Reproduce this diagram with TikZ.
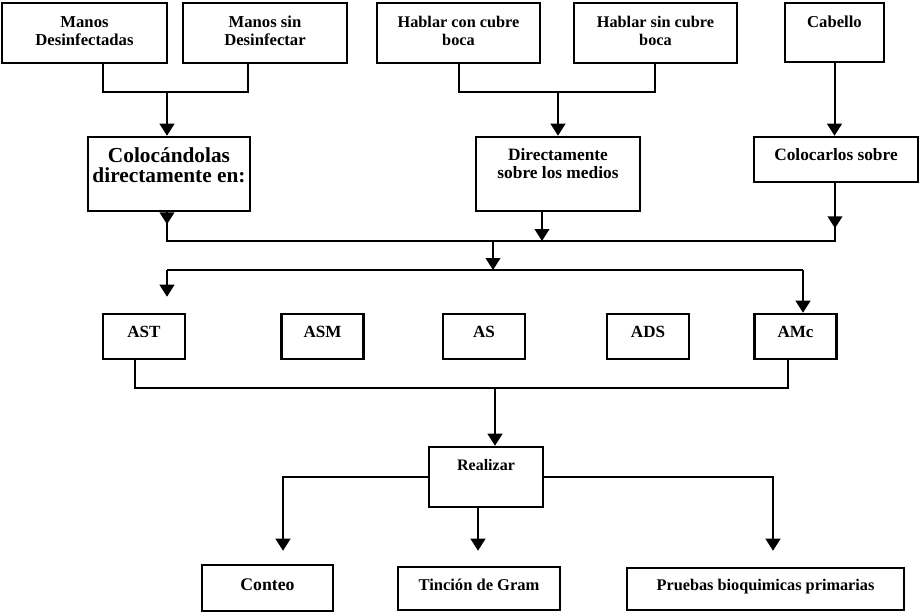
\documentclass[tikz,border=0pt]{standalone}
\usepackage{fontspec}
\setmainfont{Liberation Serif}
\usetikzlibrary{arrows.meta}

% struts fixing the height of the first line and the depth of the last one
\newcommand\sttop[1]{\rule{0pt}{#1}}
\newcommand\stbot[1]{\rule[-#1]{0pt}{#1}}

\begin{document}
\begin{tikzpicture}[x=0.75pt, y=-0.75pt,
  box/.style={draw, line width=1.9pt, inner sep=0pt, align=center,
    font=\bfseries\fontsize{12.8}{13.5}\selectfont},
  conn/.style={line width=1.5pt},
  arr/.style={conn, -{Triangle[length=9pt, width=11pt]}}]

\useasboundingbox[fill=white] (0,0) rectangle (922,612);

% first row: sources
\node[box, minimum width=123.75pt, minimum height=45pt, font=\bfseries\fontsize{12.5}{13.5}\selectfont]
  (manosD) at (84.5,33) {\sttop{10.5pt}Manos\\Desinfectadas\stbot{6pt}};
\node[box, minimum width=123pt, minimum height=45pt, font=\bfseries\fontsize{12.5}{13.5}\selectfont]
  (manosS) at (265,33) {\sttop{10.5pt}Manos sin\\Desinfectar\stbot{6pt}};
\node[box, minimum width=122.25pt, minimum height=45pt, font=\bfseries\fontsize{12.2}{13.5}\selectfont]
  (hablarC) at (458.5,33) {\sttop{10.5pt}Hablar con cubre\\boca\stbot{6pt}};
\node[box, minimum width=122.25pt, minimum height=45pt, font=\bfseries\fontsize{12.2}{13.5}\selectfont]
  (hablarS) at (655.5,33) {\sttop{10.5pt}Hablar sin cubre\\boca\stbot{6pt}};
\node[box, minimum width=74.25pt, minimum height=44.25pt, font=\bfseries\fontsize{12.5}{13.5}\selectfont]
  (cabello) at (834.5,32.5) {\sttop{10.5pt}Cabello\stbot{18.75pt}};

% second row: how the samples are placed
\node[box, minimum width=121.5pt, minimum height=55.5pt, font=\bfseries\fontsize{16}{14.5}\selectfont]
  (colocandolas) at (169,174) {\sttop{13.5pt}Colocándolas\\directamente en:\stbot{15.75pt}};
\node[box, minimum width=123pt, minimum height=55.5pt, font=\bfseries\fontsize{13}{13.5}\selectfont]
  (directamente) at (558,174) {\sttop{10.5pt}Directamente\\sobre los medios\stbot{17.25pt}};
\node[box, minimum width=123pt, minimum height=33.75pt, font=\bfseries\fontsize{13}{13.5}\selectfont]
  (colocarlos) at (836,159.5) {\sttop{9.75pt}Colocarlos sobre\stbot{9pt}};

% culture media
\foreach \nm/\cx/\tx in {AST/144/AST, ASM/322.5/ASM, AS/484/AS, ADS/648/ADS, AMc/795.5/AMc}
  \node[box, minimum width=61.5pt, minimum height=33.75pt] (\nm) at (\cx,336.5)
    {\sttop{9.75pt}\tx\stbot{9pt}};

% analyses
\node[box, minimum width=85.5pt, minimum height=45pt, font=\bfseries\fontsize{12}{13.5}\selectfont]
  (realizar) at (486,477) {\sttop{9.75pt}Realizar\stbot{20.25pt}};
\node[box, minimum width=98.25pt, minimum height=34.5pt, font=\bfseries\fontsize{13.3}{13.5}\selectfont]
  (conteo) at (267.5,588) {\sttop{10.5pt}Conteo\stbot{7.5pt}};
\node[box, minimum width=121.5pt, minimum height=32.25pt, font=\bfseries\fontsize{12.4}{13.5}\selectfont]
  (tincion) at (479,588.5) {\sttop{10.5pt}Tinción de Gram\stbot{8.25pt}};
\node[box, minimum width=207.75pt, minimum height=31.5pt, font=\bfseries\fontsize{12.2}{13.5}\selectfont]
  (pruebas) at (765.5,589) {\sttop{10.5pt}Pruebas bioquimicas primarias\stbot{9pt}};

% bend points of the connectors
\coordinate (j1) at (103,92);  \coordinate (j2) at (248,92);  \coordinate (j3) at (167,92);
\coordinate (j4) at (459,92);  \coordinate (j5) at (655,92);  \coordinate (j6) at (558,92);
\coordinate (k1) at (167,241); \coordinate (k2) at (542,241); \coordinate (k3) at (835,241);
\coordinate (k4) at (493,241);
\coordinate (l1) at (167,270); \coordinate (l2) at (803,270); \coordinate (l3) at (493,270);
\coordinate (m1) at (135,388); \coordinate (m2) at (788,388); \coordinate (m3) at (495,388);
\coordinate (n1) at (283,477); \coordinate (n2) at (773,477); \coordinate (n3) at (478,507);

% sources to placement
\draw[conn] (manosD.south -| j1) |- (j2) -- (manosS.south -| j2);
\draw[arr] (j3) -- (colocandolas.north -| j3);
\draw[conn] (hablarC.south -| j4) |- (j5) -- (hablarS.south -| j5);
\draw[arr] (j6) -- (directamente.north -| j6);
\draw[arr] (cabello.south) -- (colocarlos.north -| cabello.south);

% placement to the media
\draw[conn] (colocandolas.south -| k1) -- (k1) -- (k3) -- (colocarlos.south -| k3);
\draw[arr] (colocandolas.south -| k1) -- ++(0,12);
\draw[arr] (colocarlos.south -| k3) -- ++(0,45);
\draw[arr] (directamente.south -| k2) -- (k2);
\draw[arr] (k4) -- (l3);
\draw[conn] (l1) -- (l2);
\draw[arr, shorten >=12pt] (l1) -- (AST.north -| l1);
\draw[arr] (l2) -- (AMc.north -| l2);

% media to the analyses
\draw[conn] (AST.south -| m1) |- (m2) -- (AMc.south -| m2);
\draw[arr] (m3) -- (realizar.north -| m3);
\draw[arr, shorten >=9.75pt] (realizar.west) -| (conteo.north -| n1);
\draw[arr, shorten >=11.25pt] (realizar.south -| n3) -- (tincion.north -| n3);
\draw[arr, shorten >=12pt] (realizar.east) -| (pruebas.north -| n2);

\end{tikzpicture}
\end{document}
